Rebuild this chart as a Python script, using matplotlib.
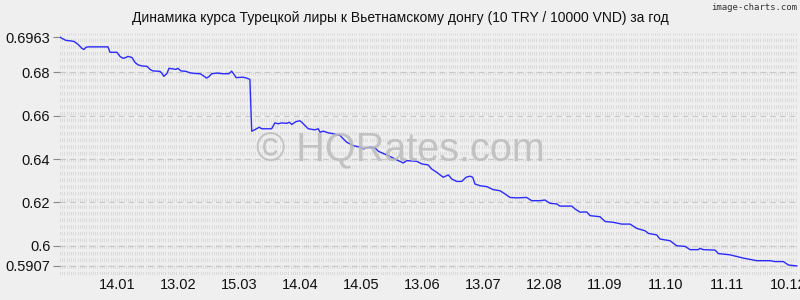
import numpy as np
import matplotlib
matplotlib.use("Agg")
import matplotlib.pyplot as plt

plt.rcParams['font.family'] = ['Liberation Sans', 'DejaVu Sans']
plt.rcParams['lines.scale_dashes'] = False

# дни от 10.12 прошлого года и курс (10 TRY / 10000 VND)
days = [7.0, 8.0, 9.9, 11.9, 13.9, 15.8, 17.8, 18.8, 19.8, 20.8,
        30.6, 31.6, 35.0, 36.5, 38.0, 39.4, 40.4, 42.4, 43.9, 45.4,
        47.3, 49.8, 51.3, 52.7, 56.2, 57.2, 58.1, 59.6, 60.6, 62.6,
        64.0, 65.0, 66.5, 69.0, 70.9, 73.9, 75.9, 77.3, 79.1, 80.3,
        81.6, 84.1, 87.2, 90.1, 91.4, 92.6, 93.6, 97.0, 98.8, 100.4,
        101.3, 102.1, 105.0, 106.2, 111.1, 112.7, 114.4, 116.0, 118.5, 119.8,
        121.0, 123.1, 125.0, 125.9, 127.5, 129.1, 132.4, 134.0, 134.9, 136.5,
        139.0, 141.4, 144.7, 148.0, 151.3, 154.6, 156.2, 159.5, 161.9, 163.6,
        167.7, 170.9, 173.4, 175.9, 177.5, 182.4, 184.9, 188.1, 189.7, 192.3,
        195.5, 198.0, 199.7, 202.1, 204.6, 206.7, 208.7, 210.0, 211.1, 213.6,
        216.9, 220.1, 223.4, 225.9, 228.3, 231.6, 236.5, 239.0, 243.1, 245.5,
        248.0, 251.3, 252.9, 258.7, 260.3, 262.8, 266.1, 267.7, 272.6, 275.1,
        279.2, 283.3, 287.4, 290.7, 294.8, 296.4, 300.5, 302.1, 307.1, 310.3,
        314.5, 316.9, 321.0, 321.8, 323.4, 329.2, 330.8, 336.6, 343.1, 349.7,
        356.3, 358.7, 362.8, 365.3, 369.4]
rates = [0.6963, 0.6957, 0.6948, 0.6946, 0.6943, 0.6930, 0.6911, 0.6906, 0.6916, 0.6918,
         0.6918, 0.6893, 0.6893, 0.6874, 0.6865, 0.6869, 0.6874, 0.6869, 0.6846, 0.6835,
         0.6830, 0.6828, 0.6814, 0.6807, 0.6805, 0.6795, 0.6782, 0.6795, 0.6819, 0.6816,
         0.6814, 0.6819, 0.6807, 0.6805, 0.6798, 0.6795, 0.6794, 0.6786, 0.6774, 0.6781,
         0.6794, 0.6797, 0.6794, 0.6794, 0.6806, 0.6791, 0.6776, 0.6778, 0.6774, 0.6768,
         0.6529, 0.6532, 0.6547, 0.6540, 0.6540, 0.6567, 0.6563, 0.6567, 0.6565, 0.6570,
         0.6560, 0.6573, 0.6577, 0.6570, 0.6555, 0.6540, 0.6535, 0.6540, 0.6524, 0.6529,
         0.6521, 0.6517, 0.6509, 0.6478, 0.6462, 0.6455, 0.6447, 0.6455, 0.6452, 0.6436,
         0.6419, 0.6405, 0.6393, 0.6382, 0.6393, 0.6390, 0.6378, 0.6373, 0.6355, 0.6339,
         0.6316, 0.6327, 0.6308, 0.6297, 0.6297, 0.6316, 0.6321, 0.6316, 0.6285, 0.6277,
         0.6273, 0.6259, 0.6254, 0.6239, 0.6223, 0.6221, 0.6223, 0.6208, 0.6208, 0.6211,
         0.6196, 0.6193, 0.6183, 0.6183, 0.6170, 0.6155, 0.6156, 0.6139, 0.6134, 0.6112,
         0.6108, 0.6100, 0.6100, 0.6080, 0.6069, 0.6057, 0.6050, 0.6031, 0.6023, 0.6000,
         0.5997, 0.5982, 0.5982, 0.5988, 0.5982, 0.5980, 0.5964, 0.5958, 0.5943, 0.5931,
         0.5931, 0.5927, 0.5927, 0.5911, 0.5907]

x_ticks = [35, 65, 95, 125, 155, 185, 215, 245, 275, 305, 335, 365]
x_labels = ["14.01", "13.02", "15.03", "14.04", "14.05", "13.06",
            "13.07", "12.08", "11.09", "11.10", "11.11", "10.12"]
y_ticks = [0.5907, 0.6, 0.62, 0.64, 0.66, 0.68, 0.6963]
y_labels = ["0.5907", "0.6", "0.62", "0.64", "0.66", "0.68", "0.6963"]

bg = "#efefef"
fig = plt.figure(figsize=(8, 3), dpi=100, facecolor=bg)
ax = fig.add_axes([60 / 800, 25 / 300, 738 / 800, 242 / 300], facecolor=bg)
x0, x1 = 7.0, 370.0
y0, y1 = 0.5865, 0.6982
ax.set_xlim(x0, x1)
ax.set_ylim(y0, y1)

# фоновая "текстура" сетки: частые пунктирные вертикали
ax.vlines(np.arange(x0, x1, 1.08), y0, y1, colors="#d6d6d6", linewidth=0.6,
          linestyles=(0, (2.6, 2.2)), zorder=0)
# горизонтальные линии на делениях
ax.hlines(y_ticks[:-1], x0, x1, colors="#c8c8c8", linewidth=0.8,
          linestyles=(0, (4, 3)), zorder=0.5)

fig.text(0.5, 0.5, "© HQRates.com", ha="center", va="center",
         fontsize=28.5, color="#bcbcbc", alpha=0.85, zorder=1)

ax.plot(days, rates, color="#2b2bff", linewidth=1.0, zorder=3)

for s in ax.spines.values():
    s.set_visible(False)
ax.set_xticks(x_ticks)
ax.set_xticklabels(x_labels, fontsize=10.5, color="#111111")
ax.set_yticks(y_ticks)
ax.set_yticklabels(y_labels, fontsize=10.5, color="#111111")
ax.tick_params(axis="x", length=0, pad=2)
ax.tick_params(axis="y", length=5, width=0.8, color="#888888", pad=2)

fig.text(0.5, 1 - 18 / 300, "Динамика курса Турецкой лиры к Вьетнамскому донгу (10 TRY / 10000 VND) за год",
         ha="center", va="center", fontsize=10, color="#111111")
fig.text(797 / 800, 1 - 7 / 300, "image-charts.com", ha="right", va="center",
         fontsize=6.5, color="#333333", family="DejaVu Sans Mono")

fig.savefig("out.png", dpi=100, facecolor=bg)
